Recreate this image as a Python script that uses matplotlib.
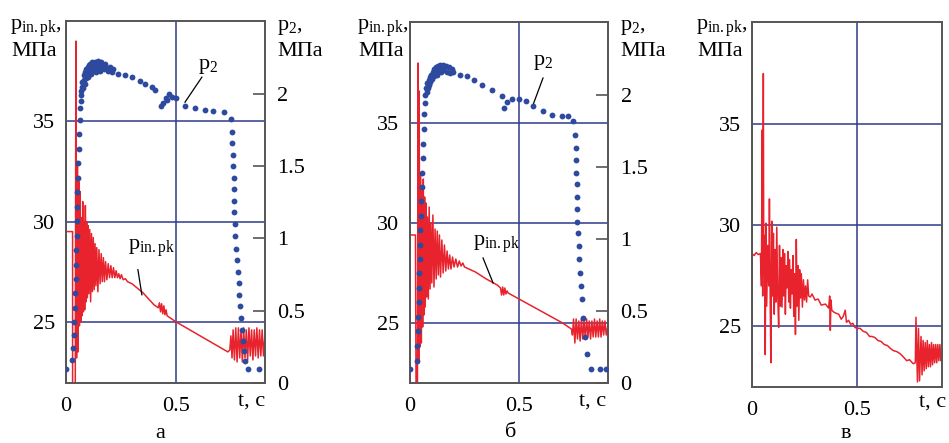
import matplotlib
matplotlib.use("Agg")
import matplotlib.pyplot as plt

# ----------------------------------------------------------------------
# data (t in s, pressures in MPa)
# ----------------------------------------------------------------------
# panel а
pin_a_t = [0.0, 0.030, 0.030, 0.042, 0.045, 0.048, 0.052, 0.055, 0.058, 0.061,
           0.064, 0.067, 0.070, 0.073, 0.076, 0.079, 0.082, 0.085, 0.088, 0.091,
           0.094, 0.097, 0.100, 0.104, 0.108, 0.112, 0.116, 0.120, 0.124, 0.128,
           0.132, 0.136, 0.140, 0.145, 0.150, 0.155, 0.160, 0.165, 0.170, 0.175,
           0.180, 0.186, 0.192, 0.198, 0.204, 0.210, 0.216, 0.222, 0.228, 0.234,
           0.240, 0.246, 0.252, 0.260, 0.270, 0.280, 0.300, 0.350, 0.400, 0.420,
           0.425, 0.430, 0.435, 0.440, 0.445, 0.450, 0.455, 0.460, 0.500, 0.736,
           0.745, 0.750, 0.755, 0.760, 0.766, 0.772, 0.778, 0.784, 0.790, 0.796,
           0.802, 0.808, 0.814, 0.820, 0.826, 0.832, 0.838, 0.844, 0.850, 0.856,
           0.862, 0.868, 0.874, 0.880, 0.886, 0.892, 0.898, 0.905]
pin_a_v = [29.5, 29.5, 21.0, 21.0, 39.0, 23.2, 33.0, 23.5, 32.0, 24.8,
           31.5, 25.0, 30.2, 25.3, 31.0, 25.5, 30.0, 25.6, 30.8, 26.0,
           30.0, 26.2, 29.8, 26.4, 29.6, 26.0, 29.4, 26.5, 29.2, 26.6,
           28.9, 26.8, 28.7, 26.5, 28.6, 26.9, 28.4, 27.0, 28.2, 27.0,
           28.0, 27.1, 27.9, 27.2, 27.8, 27.2, 27.7, 27.2, 27.55, 27.2,
           27.4, 27.15, 27.35, 27.1, 27.15, 27.0, 26.9, 26.45, 25.85, 25.7,
           25.95, 25.5, 25.9, 25.4, 25.8, 25.35, 25.6, 25.3, 25.0, 23.5,
           23.6, 24.3, 23.2, 24.6, 23.1, 24.7, 23.0, 24.7, 23.2, 24.6,
           23.0, 24.7, 23.2, 24.6, 23.1, 24.7, 23.3, 24.6, 23.1, 24.6,
           23.3, 24.7, 23.2, 24.6, 23.3, 24.6, 23.3, 24.4]

p2_a_t = [0.0, 0.026, 0.033, 0.036, 0.038, 0.040, 0.042, 0.044, 0.046, 0.047,
          0.048, 0.050, 0.051, 0.052, 0.054, 0.056, 0.058, 0.060, 0.062, 0.064,
          0.066, 0.068, 0.070, 0.072, 0.075, 0.078, 0.080, 0.083, 0.086, 0.088,
          0.090, 0.093, 0.095, 0.098, 0.100, 0.103, 0.106, 0.108, 0.111, 0.114,
          0.117, 0.120, 0.123, 0.126, 0.130, 0.134, 0.138, 0.142, 0.146, 0.150,
          0.155, 0.160, 0.166, 0.172, 0.178, 0.185, 0.192, 0.200, 0.208, 0.215,
          0.236, 0.270, 0.300, 0.336, 0.360, 0.390, 0.405, 0.430, 0.440, 0.455,
          0.460, 0.470, 0.480, 0.500, 0.540, 0.586, 0.630, 0.670, 0.720, 0.750,
          0.755, 0.757, 0.759, 0.761, 0.762, 0.763, 0.764, 0.765, 0.768, 0.770,
          0.773, 0.777, 0.781, 0.785, 0.789, 0.793, 0.797, 0.801, 0.805, 0.810,
          0.816, 0.827, 0.877]
p2_a_v = [0.10, 0.16, 0.24, 0.33, 0.42, 0.52, 0.62, 0.72, 0.82, 0.92,
          1.02, 1.12, 1.22, 1.32, 1.42, 1.52, 1.62, 1.72, 1.82, 1.90,
          1.95, 1.99, 2.02, 2.05, 2.08, 2.04, 2.10, 2.13, 2.07, 2.15,
          2.11, 2.17, 2.14, 2.19, 2.12, 2.20, 2.16, 2.21, 2.18, 2.14,
          2.22, 2.19, 2.16, 2.21, 2.18, 2.22, 2.15, 2.20, 2.23, 2.19,
          2.16, 2.22, 2.20, 2.17, 2.21, 2.18, 2.16, 2.19, 2.15, 2.17,
          2.14, 2.13, 2.12, 2.09, 2.07, 2.05, 2.03, 1.92, 1.94, 1.97,
          1.96, 2.00, 1.98, 1.97, 1.92, 1.90, 1.89, 1.88, 1.875, 1.83,
          1.74, 1.66, 1.58, 1.50, 1.42, 1.34, 1.26, 1.18, 1.10, 1.02,
          0.93, 0.85, 0.77, 0.69, 0.61, 0.53, 0.45, 0.37, 0.29, 0.22,
          0.15, 0.10, 0.10]

# panel б
pin_b_t = [0.0, 0.025, 0.028, 0.034, 0.037, 0.040, 0.042, 0.045, 0.048, 0.052,
           0.055, 0.058, 0.061, 0.064, 0.067, 0.070, 0.073, 0.076, 0.080, 0.084,
           0.088, 0.092, 0.096, 0.100, 0.105, 0.110, 0.115, 0.120, 0.125, 0.130,
           0.135, 0.140, 0.146, 0.152, 0.158, 0.164, 0.170, 0.176, 0.182, 0.188,
           0.195, 0.202, 0.210, 0.218, 0.226, 0.234, 0.242, 0.250, 0.270, 0.300,
           0.350, 0.400, 0.415, 0.420, 0.425, 0.430, 0.435, 0.440, 0.445, 0.450,
           0.500, 0.600, 0.700, 0.740, 0.745, 0.750, 0.756, 0.762, 0.768, 0.774,
           0.780, 0.786, 0.792, 0.798, 0.804, 0.810, 0.816, 0.822, 0.828, 0.834,
           0.840, 0.846, 0.852, 0.858, 0.864, 0.870, 0.876, 0.882, 0.888, 0.894,
           0.900, 0.908]
pin_b_v = [29.4, 29.4, 21.0, 21.0, 38.0, 23.0, 36.6, 23.8, 32.4, 24.0,
           31.6, 24.8, 32.2, 25.4, 31.3, 25.8, 31.0, 26.3, 30.3, 26.2,
           30.8, 26.7, 30.0, 27.0, 30.4, 26.8, 29.7, 27.2, 29.6, 27.4,
           29.4, 27.3, 29.15, 27.5, 28.9, 27.6, 28.6, 27.7, 28.4, 27.7,
           28.3, 27.8, 28.2, 27.8, 28.1, 27.85, 28.0, 27.8, 27.7, 27.55,
           27.2, 26.9, 26.75, 26.4, 26.8, 26.4, 26.75, 26.45, 26.6, 26.5,
           26.2, 25.6, 25.0, 24.7, 24.4, 25.2, 24.0, 25.2, 24.2, 25.1,
           24.1, 25.2, 24.2, 25.1, 24.2, 25.2, 24.3, 25.1, 24.2, 25.1,
           24.3, 25.2, 24.3, 25.1, 24.3, 25.2, 24.3, 25.1, 24.4, 25.1,
           24.4, 24.9]

p2_b_t = [0.0, 0.030, 0.033, 0.035, 0.037, 0.039, 0.041, 0.043, 0.045, 0.046,
          0.048, 0.050, 0.052, 0.054, 0.056, 0.058, 0.060, 0.062, 0.065, 0.068,
          0.070, 0.073, 0.076, 0.079, 0.082, 0.085, 0.088, 0.091, 0.094, 0.097,
          0.100, 0.104, 0.108, 0.112, 0.116, 0.120, 0.124, 0.128, 0.132, 0.137,
          0.142, 0.147, 0.152, 0.158, 0.164, 0.170, 0.177, 0.184, 0.192, 0.199,
          0.230, 0.260, 0.295, 0.330, 0.375, 0.420, 0.430, 0.445, 0.470, 0.500,
          0.530, 0.565, 0.610, 0.650, 0.695, 0.725, 0.749, 0.757, 0.760, 0.762,
          0.763, 0.764, 0.765, 0.766, 0.768, 0.770, 0.773, 0.776, 0.780, 0.784,
          0.788, 0.795, 0.803, 0.810, 0.830, 0.870, 0.900]
p2_b_v = [0.10, 0.15, 0.26, 0.36, 0.46, 0.56, 0.66, 0.76, 0.86, 0.96,
          1.06, 1.16, 1.26, 1.36, 1.46, 1.56, 1.66, 1.76, 1.87, 1.94,
          2.00, 2.05, 2.02, 2.08, 2.05, 2.10, 2.07, 2.12, 2.09, 2.14,
          2.11, 2.16, 2.13, 2.18, 2.15, 2.19, 2.14, 2.20, 2.17, 2.21,
          2.16, 2.19, 2.21, 2.17, 2.20, 2.16, 2.19, 2.15, 2.18, 2.16,
          2.14, 2.13, 2.10, 2.07, 2.03, 1.99, 1.91, 1.95, 1.97, 1.97,
          1.96, 1.92, 1.89, 1.86, 1.85, 1.85, 1.82, 1.72, 1.63, 1.55,
          1.46, 1.38, 1.29, 1.21, 1.12, 1.04, 0.95, 0.86, 0.76, 0.67,
          0.58, 0.45, 0.32, 0.20, 0.10, 0.10, 0.10]

# panel в
pin_c_t = [0.0, 0.010, 0.020, 0.030, 0.040, 0.045, 0.048, 0.051, 0.054, 0.056,
           0.060, 0.063, 0.066, 0.070, 0.075, 0.080, 0.083, 0.087, 0.090, 0.094,
           0.098, 0.102, 0.106, 0.110, 0.114, 0.118, 0.122, 0.127, 0.131, 0.135,
           0.139, 0.143, 0.147, 0.151, 0.155, 0.159, 0.163, 0.167, 0.171, 0.175,
           0.179, 0.183, 0.187, 0.191, 0.195, 0.199, 0.203, 0.207, 0.211, 0.215,
           0.219, 0.223, 0.227, 0.231, 0.235, 0.240, 0.245, 0.250, 0.255, 0.260,
           0.265, 0.270, 0.278, 0.286, 0.300, 0.315, 0.330, 0.350, 0.365, 0.370,
           0.373, 0.376, 0.380, 0.390, 0.400, 0.413, 0.425, 0.435, 0.444, 0.450,
           0.460, 0.470, 0.480, 0.490, 0.500, 0.515, 0.530, 0.545, 0.560, 0.571,
           0.585, 0.600, 0.615, 0.630, 0.645, 0.660, 0.673, 0.690, 0.705, 0.720,
           0.737, 0.750, 0.768, 0.778, 0.781, 0.788, 0.793, 0.798, 0.805, 0.810,
           0.815, 0.820, 0.825, 0.830, 0.835, 0.840, 0.845, 0.850, 0.855, 0.860,
           0.865, 0.870, 0.875, 0.880, 0.885, 0.890, 0.895, 0.900, 0.905]
pin_c_v = [28.6, 28.5, 28.65, 28.55, 28.6, 27.0, 34.7, 26.5, 37.5, 27.5,
           29.5, 23.6, 30.1, 26.0, 29.0, 27.0, 31.3, 26.0, 23.2, 30.2,
           26.5, 29.6, 25.6, 28.8, 26.2, 29.9, 26.8, 24.95, 29.0, 26.0,
           28.4, 25.95, 28.8, 26.5, 28.6, 25.6, 28.0, 26.9, 28.7, 26.2,
           28.3, 25.9, 27.8, 26.6, 28.5, 25.5, 27.6, 24.6, 29.3, 26.0,
           28.0, 25.3, 27.8, 26.4, 27.6, 25.95, 27.3, 26.3, 27.0, 26.2,
           27.3, 26.5, 26.45, 26.6, 26.3, 26.35, 26.05, 26.1, 25.9, 26.5,
           24.8, 26.3, 25.8, 25.7, 25.65, 25.6, 25.35, 25.5, 25.8, 25.2,
           25.3, 25.1, 25.15, 24.95, 24.9, 24.9, 24.75, 24.7, 24.5, 24.5,
           24.45, 24.3, 24.25, 24.1, 24.05, 23.9, 23.8, 23.75, 23.65, 23.5,
           23.3, 23.35, 23.15, 23.2, 25.45, 22.25, 24.9, 22.3, 24.5, 22.6,
           24.3, 22.8, 24.2, 22.9, 24.3, 23.0, 24.1, 23.0, 24.2, 23.1,
           24.1, 23.2, 24.1, 23.2, 24.1, 23.3, 24.1, 23.3, 23.6]

# ----------------------------------------------------------------------
# style
# ----------------------------------------------------------------------
plt.rcParams["font.family"] = ["Liberation Serif", "DejaVu Serif"]
plt.rcParams["mathtext.fontset"] = "custom"
plt.rcParams["mathtext.rm"] = "Liberation Serif"
plt.rcParams["mathtext.it"] = "Liberation Serif:italic"

RED = "#e8232d"
BLUE = "#2d4a9e"
GRID = "#2e3a8c"
FRAME = "#555555"
FS = 16

PIN = r"$\mathrm{p}_{\mathrm{in.pk}}$"
P2 = r"$\mathrm{p}_{2}$"

W, H = 949, 443
fig = plt.figure(figsize=(W / 100, H / 100), dpi=100)


def px(x, y):
    return x / W, 1 - y / H


def make_axes(left, right, top, bottom, xmax, ylim):
    ax = fig.add_axes([left / W, 1 - bottom / H, (right - left) / W, (bottom - top) / H])
    ax.set_xlim(0, xmax)
    ax.set_ylim(*ylim)
    ax.set_xticks([0, 0.5])
    ax.set_xticklabels(["0", "0.5"])
    ax.set_yticks([25, 30, 35])
    ax.tick_params(length=0, labelsize=FS, pad=8)
    ax.tick_params(axis="x", pad=10)
    for s in ax.spines.values():
        s.set_color(FRAME)
        s.set_linewidth(1.4)
    ax.grid(True, color=GRID, linewidth=1.1)
    ax.set_axisbelow(True)
    return ax


def right_axis(ax):
    ax2 = ax.twinx()
    ax2.set_ylim(0, 2.505)
    ax2.set_yticks([0, 0.5, 1, 1.5, 2])
    ax2.set_yticklabels(["0", "0.5", "1", "1.5", "2"])
    ax2.tick_params(direction="in", length=9, width=1.2, color=FRAME,
                    labelsize=FS, pad=9)
    for s in ax2.spines.values():
        s.set_visible(False)
    return ax2


def axis_texts(xl, xr_label=None):
    fig.text(*px(xl, 30), PIN + ",", fontsize=FS, ha="left", va="baseline")
    fig.text(*px(xl + 1, 56), "МПа", fontsize=FS, ha="left", va="baseline")
    if xr_label is not None:
        fig.text(*px(xr_label, 30), P2 + ",", fontsize=FS, ha="left", va="baseline")
        fig.text(*px(xr_label, 56), "МПа", fontsize=FS, ha="left", va="baseline")


DOT = dict(linestyle="none", marker="o", markersize=4.2, color=BLUE, markeredgewidth=0)

# panel а
ax_a = make_axes(66, 265, 21, 383, 0.905, (21.95, 40.0))
ax_a.plot(pin_a_t, pin_a_v, color=RED, linewidth=1.1)
ax_a2 = right_axis(ax_a)
ax_a2.plot(p2_a_t, p2_a_v, **DOT)
ax_a.text(0.6, 37.75, P2, fontsize=FS, ha="left", va="center")
ax_a.plot([0.618, 0.541], [37.2, 35.95], color="black", linewidth=0.9)
ax_a.text(0.282, 28.6, PIN, fontsize=FS, ha="left", va="baseline")
ax_a.plot([0.327, 0.345], [27.6, 26.35], color="black", linewidth=0.9)
axis_texts(10, 277)
fig.text(*px(265, 406), "t, c", fontsize=FS, ha="right", va="baseline")
fig.text(*px(160, 438), "а", fontsize=FS, ha="center", va="baseline")

# panel б
ax_b = make_axes(410, 608, 22, 383, 0.908, (22.0, 40.05))
ax_b.plot(pin_b_t, pin_b_v, color=RED, linewidth=1.1)
ax_b2 = right_axis(ax_b)
ax_b2.plot(p2_b_t, p2_b_v, **DOT)
ax_b.text(0.565, 38.0, P2, fontsize=FS, ha="left", va="center")
ax_b.plot([0.61, 0.564], [37.25, 35.9], color="black", linewidth=0.9)
ax_b.text(0.289, 28.85, PIN, fontsize=FS, ha="left", va="baseline")
ax_b.plot([0.335, 0.381], [28.25, 27.0], color="black", linewidth=0.9)
axis_texts(357, 620)
fig.text(*px(606, 406), "t, c", fontsize=FS, ha="right", va="baseline")
fig.text(*px(511, 437), "б", fontsize=FS, ha="center", va="baseline")

# panel в
ax_c = make_axes(752, 942, 22, 387, 0.905, (22.0, 40.05))
ax_c.plot(pin_c_t, pin_c_v, color=RED, linewidth=1.1)
axis_texts(696)
fig.text(*px(946, 407), "t, c", fontsize=FS, ha="right", va="baseline")
fig.text(*px(846, 438), "в", fontsize=FS, ha="center", va="baseline")

fig.savefig("out.png", dpi=100)
